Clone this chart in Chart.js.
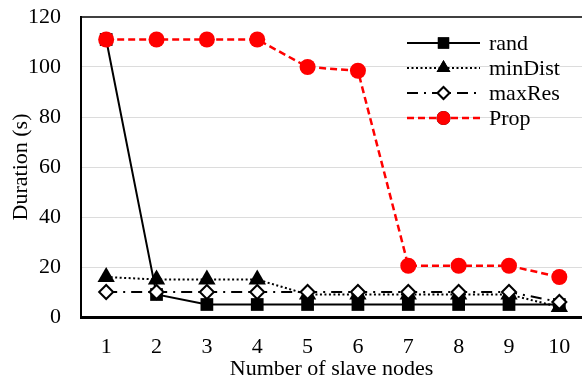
<!DOCTYPE html>
<html>
<head>
<meta charset="utf-8">
<script src="https://cdn.jsdelivr.net/npm/chart.js@4"></script>
<style>
  html, body { margin: 0; padding: 0; background: #fff; }
  #wrap { width: 582px; height: 377px; }
</style>
</head>
<body>
<div id="wrap"><canvas id="durChart" width="582" height="377"></canvas></div>
<script>
const nodes = [1, 2, 3, 4, 5, 6, 7, 8, 9, 10];
const yTicks = [0, 20, 40, 60, 80, 100, 120];

const randVals    = [111, 9, 5, 5, 5, 5, 5, 5, 5, 5];
const minDistVals = [16, 15, 15, 15, 9, 9, 9, 9, 9, 4];
const maxResVals  = [10, 10, 10, 10, 10, 10, 10, 10, 10, 6];
const propVals    = [111, 111, 111, 111, 100, 98.5, 20.5, 20.5, 20.5, 16];

const FONT = '"Liberation Serif", "Times New Roman", serif';

function pts(vals) {
    return nodes.map(function (n, i) { return { x: n, y: vals[i] }; });
}

// scales should not reserve room for half labels at their ends
function noEdgePadding(scale) {
    scale.paddingLeft = 0;
    scale.paddingRight = 0;
    scale.paddingTop = 0;
    scale.paddingBottom = 0;
}

// let the plot run right up to the canvas edge
const fullWidthPlugin = {
    id: 'fullWidth',
    afterLayout: function (chart) {
        const x = chart.scales.x;
        chart.chartArea.right = chart.width;
        chart.chartArea.width = chart.chartArea.right - chart.chartArea.left;
        x.right = chart.width;
        x.width = x.right - x.left;
        x.configure();
    }
};

// frame line on top plus the legend with line + marker samples
const framePlugin = {
    id: 'frame',
    afterDatasetsDraw: function (chart) {
        const ctx = chart.ctx;
        const a = chart.chartArea;
        ctx.save();
        ctx.strokeStyle = '#000';
        ctx.lineWidth = 1.5;
        ctx.beginPath();
        ctx.moveTo(a.left, a.top);
        ctx.lineTo(a.right, a.top);
        ctx.stroke();

        const x0 = 407, x1 = 480, tx = 489;
        chart.data.datasets.slice().sort(function (p, q) { return p.legendIdx - q.legendIdx; })
            .forEach(function (ds, i) {
                const y = 43 + i * 25;
                ctx.save();
                ctx.strokeStyle = ds.borderColor;
                ctx.lineWidth = ds.borderWidth;
                ctx.setLineDash(ds.borderDash || []);
                ctx.beginPath();
                ctx.moveTo(x0, y);
                ctx.lineTo(x1, y);
                ctx.stroke();
                ctx.restore();
                Chart.helpers.drawPoint(ctx, {
                    pointStyle: ds.pointStyle,
                    radius: ds.legendRadius,
                    borderWidth: ds.pointBorderWidth,
                    rotation: 0
                }, (x0 + x1) / 2, y);
                ctx.fillStyle = ds.pointBackgroundColor;
                ctx.strokeStyle = ds.pointBorderColor;
                ctx.lineWidth = ds.pointBorderWidth;
                ctx.fill();
                if (ds.pointBorderWidth > 0) ctx.stroke();
                ctx.fillStyle = '#000';
                ctx.font = '22px ' + FONT;
                ctx.textBaseline = 'middle';
                ctx.fillText(ds.label, tx, y + 1);
            });
        ctx.restore();
    }
};

new Chart(document.getElementById('durChart'), {
    type: 'line',
    data: {
        datasets: [
            {
                label: 'Prop', legendIdx: 3, order: 1,
                data: pts(propVals),
                borderColor: '#ff0000', borderWidth: 2.5, borderDash: [7, 4],
                pointStyle: 'circle', pointRadius: 8, legendRadius: 7,
                pointBackgroundColor: '#ff0000', pointBorderColor: '#ff0000', pointBorderWidth: 0
            },
            {
                label: 'maxRes', legendIdx: 2, order: 2,
                data: pts(maxResVals),
                borderColor: '#000', borderWidth: 2, borderDash: [11, 6, 2, 6],
                pointStyle: 'rectRot', pointRadius: 7, legendRadius: 6,
                pointBackgroundColor: '#fff', pointBorderColor: '#000', pointBorderWidth: 2
            },
            {
                label: 'minDist', legendIdx: 1, order: 3,
                data: pts(minDistVals),
                borderColor: '#000', borderWidth: 2, borderDash: [2, 2.5],
                pointStyle: 'triangle', pointRadius: 10, legendRadius: 8,
                pointBackgroundColor: '#000', pointBorderColor: '#000', pointBorderWidth: 0
            },
            {
                label: 'rand', legendIdx: 0, order: 4,
                data: pts(randVals),
                borderColor: '#000', borderWidth: 2,
                pointStyle: 'rect', pointRadius: 9, legendRadius: 8,
                pointBackgroundColor: '#000', pointBorderColor: '#000', pointBorderWidth: 0
            }
        ]
    },
    options: {
        responsive: false,
        animation: false,
        layout: { padding: { top: 17, right: 0, left: 0, bottom: 0 } },
        plugins: {
            legend: { display: false },
            tooltip: { enabled: false }
        },
        scales: {
            x: {
                type: 'linear',
                min: 0.5,
                max: 10.45,
                afterBuildTicks: function (scale) {
                    scale.ticks = nodes.map(function (n) { return { value: n }; });
                },
                afterFit: function (scale) {
                    scale.height = 60;
                    noEdgePadding(scale);
                },
                grid: { display: false },
                border: { color: '#000', width: 3 },
                ticks: {
                    color: '#000',
                    font: { family: FONT, size: 22 },
                    padding: 9,
                    maxRotation: 0,
                    autoSkip: false
                },
                title: {
                    display: true,
                    text: 'Number of slave nodes',
                    color: '#000',
                    font: { family: FONT, size: 22 },
                    padding: { top: 0, bottom: -5 }
                }
            },
            y: {
                min: 0,
                max: 120,
                afterBuildTicks: function (scale) {
                    scale.ticks = yTicks.map(function (v) { return { value: v }; });
                },
                afterFit: function (scale) {
                    scale.width = 81;
                    noEdgePadding(scale);
                },
                grid: {
                    drawTicks: false,
                    color: function (c) {
                        return (c.tick && (c.tick.value === 0 || c.tick.value === 120)) ? 'rgba(0,0,0,0)' : '#dcdcdc';
                    }
                },
                border: { color: '#000', width: 2 },
                ticks: {
                    color: '#000',
                    font: { family: FONT, size: 22 },
                    padding: 20
                },
                title: {
                    display: true,
                    text: 'Duration (s)',
                    color: '#000',
                    font: { family: FONT, size: 22 },
                    padding: { top: 8, bottom: 0 }
                }
            }
        }
    },
    plugins: [fullWidthPlugin, framePlugin]
});
</script>
</body>
</html>
